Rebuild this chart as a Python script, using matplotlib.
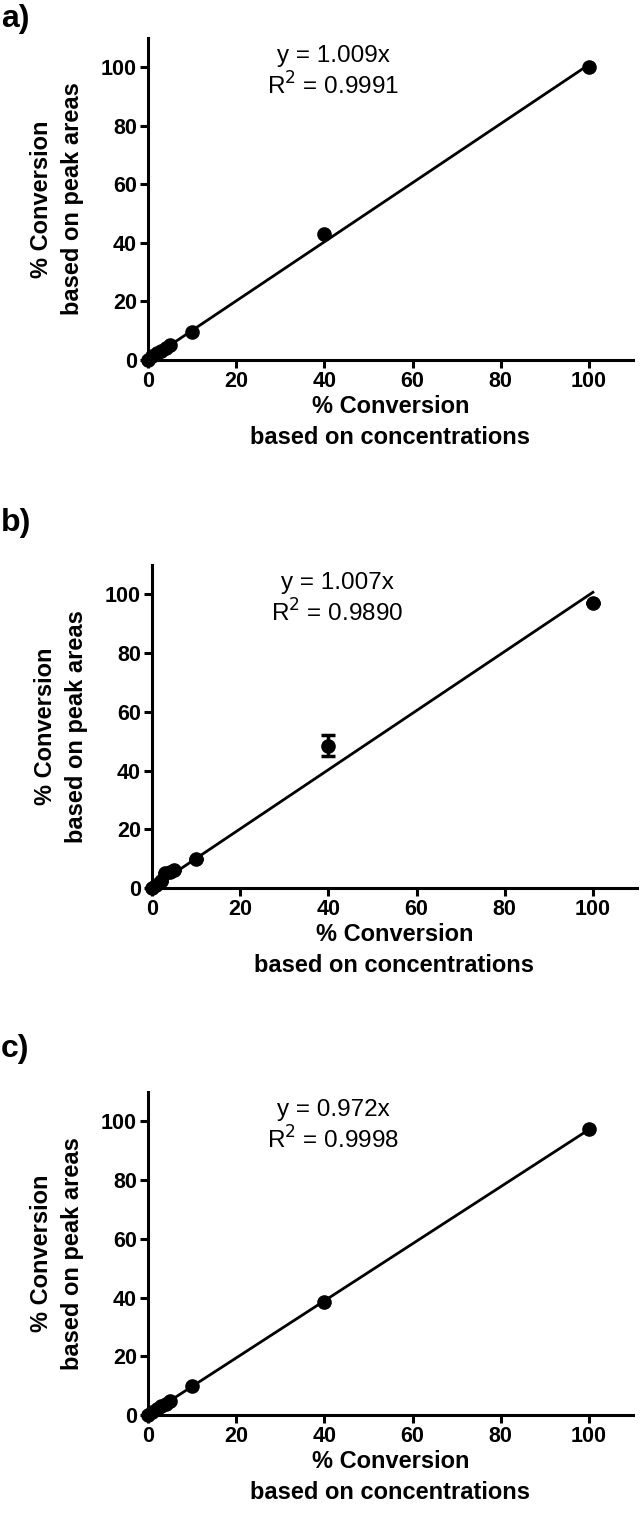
import matplotlib
matplotlib.use("Agg")
import matplotlib.pyplot as plt
import numpy as np

plt.rcParams['font.family'] = ['Liberation Sans', 'DejaVu Sans']

x_conc = [0, 1, 2, 3, 4, 5, 10, 40, 100]
y_a = [0, 1.2, 2.3, 3.2, 4.1, 5.0, 9.7, 43.0, 100.2]
y_b = [0, 1.0, 2.5, 5.0, 5.3, 6.0, 10.0, 48.5, 97.0]
err_b = [0, 0, 0, 0, 0, 0, 0, 3.5, 0]
y_c = [0, 1.0, 2.0, 2.9, 3.9, 4.9, 9.8, 38.5, 97.5]
slopes = [1.009, 1.007, 0.972]
r2 = ["0.9991", "0.9890", "0.9998"]
panel_labels = ["a)", "b)", "c)"]
xticks = [0, 20, 40, 60, 80, 100]
yticks = [0, 20, 40, 60, 80, 100]

fig = plt.figure(figsize=(6.4, 15.21), dpi=100)
W, H = 640, 1521
panels = [
    (148, 38, 360, y_a, None),
    (152, 565, 888, y_b, err_b),
    (148, 1092, 1415, y_c, None),
]
label_y = [19, 523, 1049]

for i, (left, top, bottom, ys, err) in enumerate(panels):
    ax = fig.add_axes([left / W, 1 - bottom / H, 485 / W, (bottom - top) / H])
    xl = np.array([0, 100])
    ax.plot(xl, slopes[i] * xl, color='black', lw=2, zorder=2)
    if err is not None:
        ax.errorbar(x_conc, ys, yerr=err, fmt='o', color='black', ms=9.5,
                    capsize=5, elinewidth=2.5, capthick=2.5, zorder=3, clip_on=False)
    else:
        ax.plot(x_conc, ys, 'o', color='black', ms=9.5, zorder=3, clip_on=False)
    ax.set_xlim(0, 110)
    ax.set_ylim(0, 110)
    ax.set_xticks(xticks)
    ax.set_yticks(yticks)
    for s in ['top', 'right']:
        ax.spines[s].set_visible(False)
    for s in ['left', 'bottom']:
        ax.spines[s].set_linewidth(2.2)
    ax.tick_params(width=2.2, length=6, labelsize=15.5, pad=2)
    for lab in ax.get_xticklabels() + ax.get_yticklabels():
        lab.set_fontweight('bold')
    ax.set_xlabel("% Conversion\nbased on concentrations", fontsize=17,
                  fontweight='bold', linespacing=1.45, labelpad=2)
    ax.set_ylabel("% Conversion\nbased on peak areas", fontsize=17,
                  fontweight='bold', linespacing=1.45, labelpad=12)
    ax.text(42, 104, f"y = {slopes[i]:.3f}x", ha='center', va='center', fontsize=17.5)
    ax.text(42, 93.5, f"R$^2$ = {r2[i]}", ha='center', va='center', fontsize=17.5)
    fig.text(1 / W, 1 - label_y[i] / H, panel_labels[i], fontsize=23,
             fontweight='bold', ha='left', va='center')

fig.savefig("out.png", dpi=100)
